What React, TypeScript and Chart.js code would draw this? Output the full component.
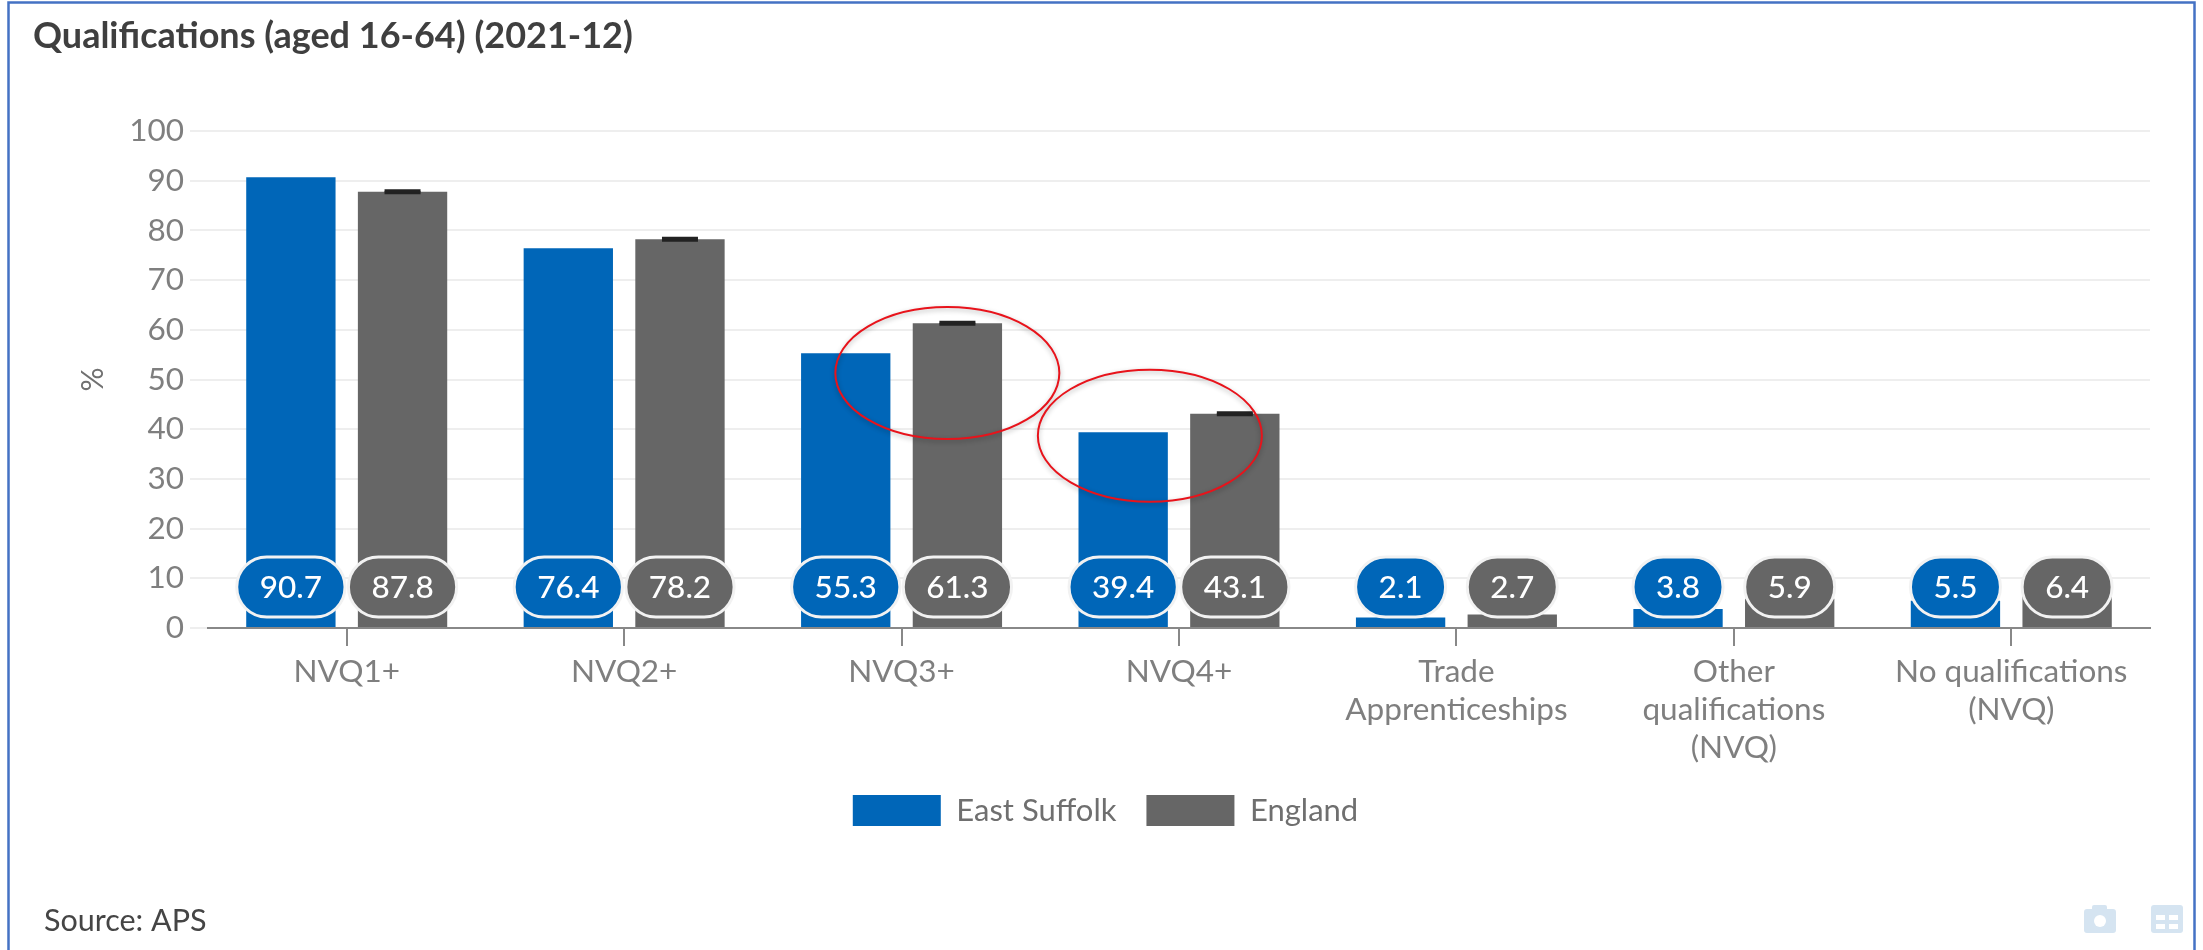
import React, { useEffect, useRef } from "react";
import { Chart, registerables } from "chart.js";

Chart.register(...registerables);

const categories = [
  ["NVQ1+"],
  ["NVQ2+"],
  ["NVQ3+"],
  ["NVQ4+"],
  ["Trade", "Apprenticeships"],
  ["Other", "qualifications", "(NVQ)"],
  ["No qualifications", "(NVQ)"],
];
const eastSuffolk = [90.7, 76.4, 55.3, 39.4, 2.1, 3.8, 5.5];
const england = [87.8, 78.2, 61.3, 43.1, 2.7, 5.9, 6.4];
const englandMargin = [0.2, 0.2, 0.2, 0.2, 0.2, 0.2, 0.2];
const highlightCentres = [
  { category: 2.165, value: 51.3 },
  { category: 2.895, value: 38.7 },
];

const TITLE = "Qualifications (aged 16-64) (2021-12)";
const SOURCE = "Source: APS";
const BLUE = "#0066b8";
const GREY = "#666666";
const FONT = "Lato";

const framePlugin = {
  id: "frame",
  beforeDraw(chart: any) {
    const { ctx } = chart;
    ctx.save();
    ctx.fillStyle = "#ffffff";
    ctx.fillRect(0, 0, chart.width, chart.height);
    ctx.strokeStyle = "#4472c4";
    ctx.lineWidth = 2.5;
    ctx.strokeRect(8.5, 2.5, 2186, 960);
    ctx.fillStyle = "#3f3f3f";
    ctx.textBaseline = "middle";
    ctx.font = `bold 36px ${FONT}`;
    ctx.fillText(TITLE, 33, 36);
    ctx.fillStyle = "#454545";
    ctx.font = `30.5px ${FONT}`;
    ctx.fillText(SOURCE, 44, 921);
    // export icons
    ctx.fillStyle = "#d5e4f1";
    ctx.beginPath();
    ctx.roundRect(2084, 909, 32, 24, 3);
    ctx.roundRect(2092, 905, 15, 6, 2);
    ctx.fill();
    ctx.fillStyle = "#ffffff";
    ctx.beginPath();
    ctx.arc(2100, 921, 6, 0, Math.PI * 2);
    ctx.fill();
    ctx.fillStyle = "#d5e4f1";
    ctx.beginPath();
    ctx.roundRect(2151, 905, 32, 28, 3);
    ctx.fill();
    ctx.fillStyle = "#ffffff";
    ctx.fillRect(2156, 915, 9, 5);
    ctx.fillRect(2169, 915, 9, 5);
    ctx.fillRect(2156, 924, 9, 5);
    ctx.fillRect(2169, 924, 9, 5);
    ctx.restore();
  },
};

const marksPlugin = {
  id: "marks",
  afterDatasetsDraw(chart: any) {
    const { ctx, scales } = chart;
    const y = scales.y;
    const x = scales.x;
    ctx.save();

    // England confidence whiskers
    const greyBars = chart.getDatasetMeta(1).data;
    ctx.strokeStyle = "#222222";
    ctx.lineWidth = 3;
    england.forEach((v, i) => {
      const cx = greyBars[i].x;
      [v - englandMargin[i], v + englandMargin[i]].forEach((edge) => {
        const py = y.getPixelForValue(edge);
        ctx.beginPath();
        ctx.moveTo(cx - 18, py);
        ctx.lineTo(cx + 18, py);
        ctx.stroke();
      });
    });

    // Value pills along the base of each bar
    const baseY = y.getPixelForValue(0) - 41;
    ctx.textAlign = "center";
    ctx.textBaseline = "middle";
    ctx.font = `500 31.5px ${FONT}`;
    [eastSuffolk, england].forEach((series, d) => {
      const bars = chart.getDatasetMeta(d).data;
      series.forEach((v, i) => {
        const text = v.toFixed(1);
        const w = ctx.measureText(text).width + 46;
        const h = 60;
        ctx.beginPath();
        ctx.roundRect(bars[i].x - w / 2, baseY - h / 2, w, h, 30);
        ctx.fillStyle = d === 0 ? BLUE : GREY;
        ctx.fill();
        ctx.lineWidth = 3;
        ctx.strokeStyle = "#f2f2f2";
        ctx.stroke();
        ctx.fillStyle = "#ffffff";
        ctx.fillText(text, bars[i].x, baseY + 1);
      });
    });

    // Red hand-drawn highlights
    const step = x.getPixelForValue(1) - x.getPixelForValue(0);
    ctx.strokeStyle = "#e8131b";
    ctx.lineWidth = 2;
    ctx.shadowColor = "rgba(0,0,0,0.3)";
    ctx.shadowBlur = 5;
    ctx.shadowOffsetY = 2;
    highlightCentres.forEach((h) => {
      const px = x.getPixelForValue(0) + h.category * step;
      const py = y.getPixelForValue(h.value);
      ctx.beginPath();
      ctx.ellipse(px, py, 112, 66, 0, 0, Math.PI * 2);
      ctx.stroke();
    });
    ctx.restore();
  },
};

export default function App() {
  const ref = useRef<HTMLCanvasElement>(null);
  useEffect(() => {
    document.body.style.margin = "0";
    document.body.style.overflow = "hidden";
    const chart = new Chart(ref.current as HTMLCanvasElement, {
      type: "bar",
      data: {
        labels: categories as any,
        datasets: [
          {
            label: "East Suffolk",
            data: eastSuffolk,
            backgroundColor: BLUE,
            barPercentage: 0.8,
            categoryPercentage: 0.805,
          },
          {
            label: "England",
            data: england,
            backgroundColor: GREY,
            barPercentage: 0.8,
            categoryPercentage: 0.805,
          },
        ],
      },
      options: {
        animation: false,
        responsive: false,
        devicePixelRatio: 1,
        layout: { padding: { top: 131, left: 61, right: 53, bottom: 114 } },
        plugins: {
          tooltip: { enabled: false },
          title: { display: false },
          legend: {
            position: "bottom",
            labels: {
              boxWidth: 88,
              boxHeight: 31,
              padding: 30,
              color: "#6f6f6f",
              font: { family: FONT, size: 31 },
            },
          },
        },
        scales: {
          x: {
            afterFit: (s: any) => {
              s.height = 137;
            },
            grid: {
              drawOnChartArea: false,
              drawTicks: true,
              offset: false,
              tickLength: 18,
              color: "#888888",
              lineWidth: 2,
            },
            border: { display: true, color: "#888888", width: 2 },
            ticks: {
              autoSkip: false,
              maxRotation: 0,
              padding: 7,
              color: "#7f7f7f",
              font: { family: FONT, size: 31.5, lineHeight: 1.21 },
            },
          },
          y: {
            min: 0,
            max: 100,
            afterFit: (s: any) => {
              s.width = 147;
            },
            title: {
              display: true,
              text: "%",
              color: "#707070",
              padding: { top: 14, bottom: 0 },
              font: { family: FONT, size: 30 },
            },
            grid: { color: "#eeeeee", lineWidth: 2, tickLength: 18 },
            border: { display: false },
            ticks: {
              stepSize: 10,
              padding: 6,
              color: "#7f7f7f",
              font: { family: FONT, size: 31.5 },
            },
          },
        },
      },
      plugins: [framePlugin, marksPlugin],
    } as any);
    return () => chart.destroy();
  }, []);
  return <canvas ref={ref} width={2203} height={950} style={{ display: "block" }} />;
}
